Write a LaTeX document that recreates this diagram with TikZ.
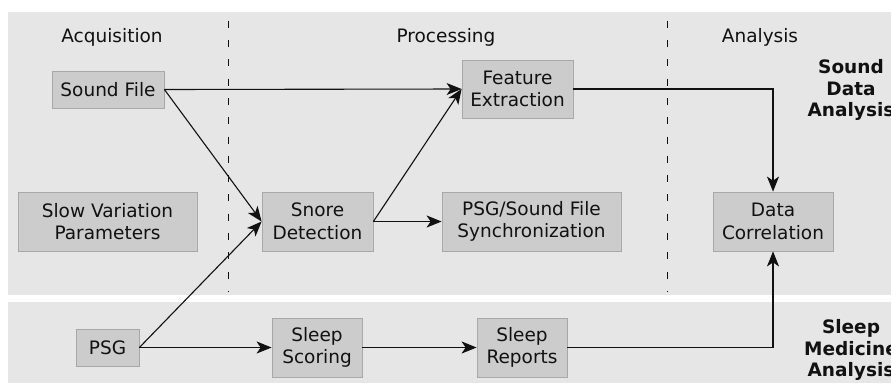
\documentclass[tikz,border=0pt]{standalone}
\usepackage{fontspec}
\setmainfont{DejaVu Sans}
\usetikzlibrary{arrows.meta}
\definecolor{panel}{HTML}{E6E6E6}
\definecolor{boxfill}{HTML}{CCCCCC}
\definecolor{boxline}{HTML}{A8A8A8}
\definecolor{ink}{HTML}{111111}
\tikzset{
  stage/.style={draw=boxline, line width=0.8pt, fill=boxfill, align=center,
    inner sep=0pt, text=ink, font=\fontsize{18.5}{22.5}\selectfont},
  heading/.style={text=ink, font=\fontsize{18.5}{22.5}\selectfont},
  sidelabel/.style={text=ink, align=center, font=\fontsize{18.5}{21.5}\selectfont\bfseries},
  flow/.style={draw=ink, line width=1.1pt, -{Stealth[length=15pt,width=12pt,inset=4pt]}},
  divider/.style={draw=ink, line width=1pt, dash pattern=on 7pt off 12.3pt}
}
\begin{document}
\begin{tikzpicture}[x=1pt,y=-1pt]
\useasboundingbox (0,0) rectangle (891,383);
% two background bands
\fill[panel] (8,12) rectangle (891,295);
\fill[panel] (8,302) rectangle (891,383);
% phase dividers
\draw[divider] (228,20.7) -- (228,292);
\draw[divider] (667,20.7) -- (667,292);
% phase headings
\node[heading] (hacq) at (112,37) {Acquisition};
\node[heading] (hproc) at (446,37) {Processing};
\node[heading] (hana) at (760,37) {Analysis};
% band labels
\node[sidelabel] (lsound) at (851,90) {Sound\\Data\\Analysis};
\node[sidelabel] (lsleep) at (851,350) {Sleep\\Medicine\\Analysis};
% stages
\node[stage, minimum width=112pt, minimum height=37pt] (sf) at (108,89.5) {Sound File};
\node[stage, minimum width=111pt, minimum height=58pt] (fe) at (517.5,89) {Feature\\Extraction};
\node[stage, minimum width=179pt, minimum height=59pt] (svp) at (107.5,221.5) {Slow Variation\\Parameters};
\node[stage, minimum width=111pt, minimum height=59pt] (sd) at (317.5,221.5) {Snore\\Detection};
\node[stage, minimum width=179pt, minimum height=59pt] (sync) at (531.5,221.5) {PSG/Sound File\\Synchronization};
\node[stage, minimum width=120pt, minimum height=59pt] (dc) at (773,221.5) {Data\\Correlation};
\node[stage, minimum width=63pt, minimum height=37pt] (psg) at (107.5,347.5) {PSG};
\node[stage, minimum width=90pt, minimum height=59pt] (ss) at (317,347.5) {Sleep\\Scoring};
\node[stage, minimum width=90pt, minimum height=59pt] (sr) at (522,347.5) {Sleep\\Reports};
% data flow
\draw[flow] (sf.east) -- (fe.west);
\draw[flow] (sf.east) -- (sd.west);
\draw[flow] (psg.east) -- (sd.west);
\draw[flow] (sd.east) -- (fe.west);
\draw[flow] (sd.east) -- (sync.west);
\draw[flow] (fe.east) -| (dc.north);
\draw[flow] (psg.east) -- (ss.west);
\draw[flow] (ss.east) -- (sr.west);
\draw[flow] (sr.east) -| (dc.south);
\end{tikzpicture}
\end{document}
